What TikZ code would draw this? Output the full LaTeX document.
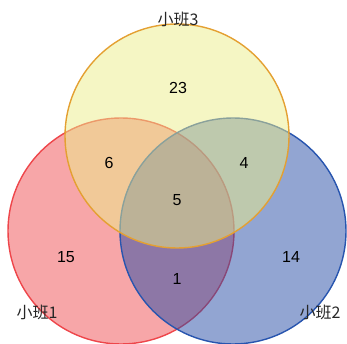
\documentclass[tikz,border=0pt]{standalone}
\usepackage{fontspec}
\setmainfont{Liberation Sans}
\newfontfamily\cjk{Noto Sans CJK SC}
\begin{document}
\begin{tikzpicture}[x=1pt,y=-1pt,
  setcirc/.style={line width=1.4pt, fill opacity=0.5},
  num/.style={font=\fontsize{16}{18}\selectfont, text=black},
  setlabel/.style={font=\cjk\fontsize{16}{18}\selectfont, text=black!85}]
\useasboundingbox (0,0) rectangle (347,344);
\definecolor{redfill}{RGB}{240,77,81}
\definecolor{redline}{RGB}{238,70,75}
\definecolor{bluefill}{RGB}{37,75,165}
\definecolor{blueline}{RGB}{40,85,175}
\definecolor{yelfill}{RGB}{236,237,137}
\definecolor{yelline}{RGB}{228,160,50}
\coordinate (c1) at (121,231);
\coordinate (c2) at (233,231);
\coordinate (c3) at (177,136);
\draw[setcirc, draw=redline, fill=redfill] (c1) circle[radius=113];
\draw[setcirc, draw=blueline, fill=bluefill] (c2) circle[radius=113];
\draw[setcirc, draw=yelline, fill=yelfill] (c3) circle[radius=112];
\node[num] (n23) at (178,88) {23};
\node[num] (n6) at (109,163) {6};
\node[num] (n4) at (244,163) {4};
\node[num] (n5) at (177,200) {5};
\node[num] (n15) at (66,257) {15};
\node[num] (n1) at (177,279) {1};
\node[num] (n14) at (291,257) {14};
\node[setlabel] (l1) at (37,312) {小班1};
\node[setlabel] (l2) at (320,312) {小班2};
\node[setlabel] (l3) at (178,19) {小班3};
\end{tikzpicture}
\end{document}
